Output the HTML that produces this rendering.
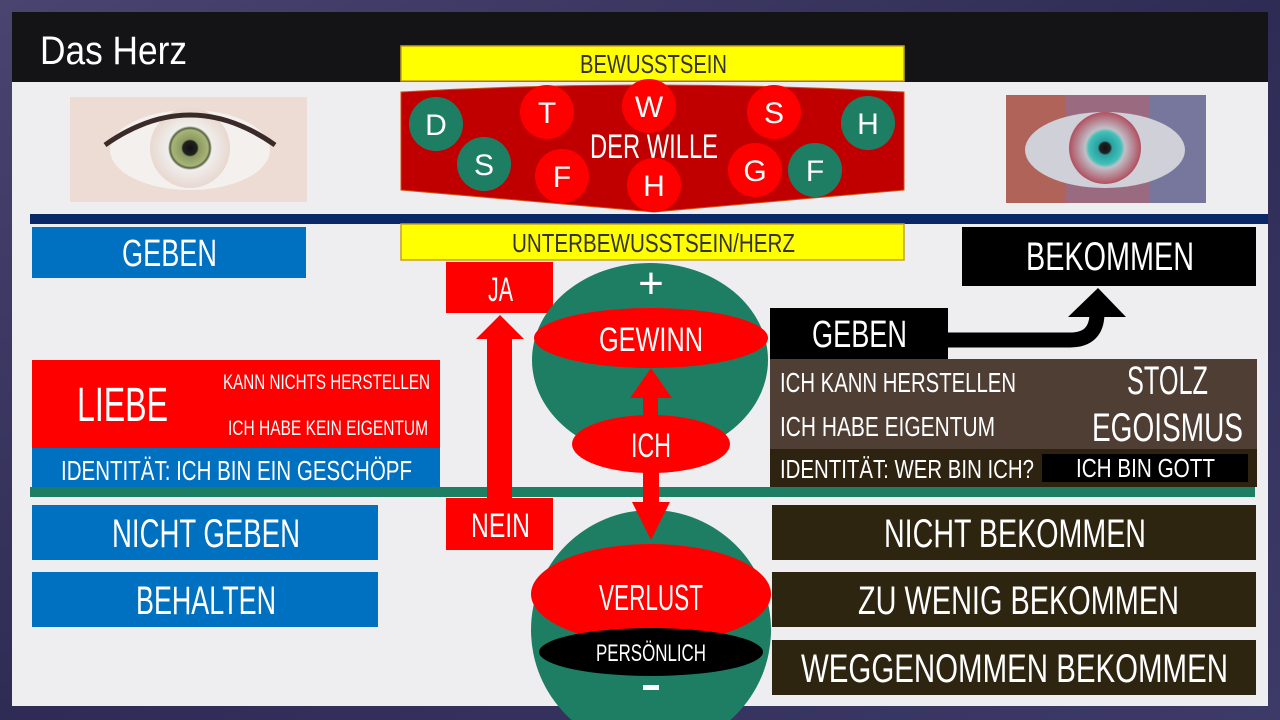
<!DOCTYPE html>
<html><head><meta charset="utf-8"><style>
html,body{margin:0;padding:0;width:1280px;height:720px;overflow:hidden;background:#3a3660}
svg{display:block}
text{font-family:"Liberation Sans Narrow","Liberation Sans",sans-serif;fill:#fff}
</style></head><body>
<svg width="1280" height="720" viewBox="0 0 1280 720" xmlns="http://www.w3.org/2000/svg">
<defs>
<linearGradient id="bg" x1="0" y1="0" x2="1" y2="1"><stop offset="0" stop-color="#4a4470"/><stop offset="0.5" stop-color="#2e2c55"/><stop offset="1" stop-color="#3d3a68"/></linearGradient>
<radialGradient id="eyeL" cx="0.5" cy="0.5" r="0.5"><stop offset="0" stop-color="#111"/><stop offset="0.18" stop-color="#222"/><stop offset="0.22" stop-color="#8a9a60"/><stop offset="0.45" stop-color="#a8b478"/><stop offset="0.5" stop-color="#556040"/><stop offset="0.55" stop-color="#f0eeec"/><stop offset="1" stop-color="#e8d8d0"/></radialGradient>
<radialGradient id="eyeR" cx="0.5" cy="0.5" r="0.5"><stop offset="0" stop-color="#111"/><stop offset="0.15" stop-color="#222"/><stop offset="0.2" stop-color="#2aa0a0"/><stop offset="0.45" stop-color="#40c0b8"/><stop offset="0.55" stop-color="#c0c0c8"/><stop offset="1" stop-color="#b05060"/></radialGradient>
</defs>
<rect width="1280" height="720" fill="url(#bg)"/>
<rect x="12" y="12" width="1256" height="694" fill="#eeeef0"/>
<rect x="12" y="12" width="1256" height="70" fill="#141416"/>
<text x="40" y="64" font-size="40" textLength="147" lengthAdjust="spacingAndGlyphs">Das Herz</text>

<!-- eyes -->
<rect x="70" y="97" width="237" height="105" fill="#ecdcd4"/>
<ellipse cx="190" cy="150" rx="80" ry="40" fill="#f4f0ee"/>
<circle cx="190" cy="148" r="40" fill="url(#eyeL)"/>
<path d="M105 145 Q190 85 275 145" stroke="#3a2a28" stroke-width="5" fill="none"/>
<rect x="1006" y="95" width="200" height="108" fill="#9a6a80"/>
<rect x="1006" y="95" width="60" height="108" fill="#c06040" opacity="0.6"/>
<rect x="1150" y="95" width="56" height="108" fill="#6080b0" opacity="0.6"/>
<ellipse cx="1105" cy="150" rx="80" ry="38" fill="#d0d0d8"/>
<circle cx="1105" cy="148" r="36" fill="url(#eyeR)"/>

<!-- bewusstsein -->
<rect x="401" y="46" width="503" height="35" fill="#ffff00" stroke="#c8a020" stroke-width="1.5"/>
<text x="580" y="73" font-size="26" textLength="147" lengthAdjust="spacingAndGlyphs" style="fill:#333">BEWUSSTSEIN</text>
<path d="M401 92 Q652 78 904 92 L904 190 L654 212 L401 190 Z" fill="#c00000" stroke="#d05010" stroke-width="1"/>
<g font-size="30" text-anchor="middle">
<circle cx="436" cy="124" r="27" fill="#1e7e64"/><text x="436" y="135">D</text>
<circle cx="484" cy="164" r="27" fill="#1e7e64"/><text x="484" y="175">S</text>
<circle cx="547" cy="112" r="27" fill="#ff0000"/><text x="547" y="123">T</text>
<circle cx="649" cy="106" r="27" fill="#ff0000"/><text x="649" y="117">W</text>
<circle cx="562" cy="176" r="27" fill="#ff0000"/><text x="562" y="187">F</text>
<circle cx="654" cy="185" r="27" fill="#ff0000"/><text x="654" y="196">H</text>
<circle cx="774" cy="112" r="27" fill="#ff0000"/><text x="774" y="123">S</text>
<circle cx="755" cy="170" r="27" fill="#ff0000"/><text x="755" y="181">G</text>
<circle cx="815" cy="170" r="27" fill="#1e7e64"/><text x="815" y="181">F</text>
<circle cx="868" cy="123" r="27" fill="#1e7e64"/><text x="868" y="134">H</text>
</g>
<text x="590" y="158" font-size="34" textLength="128" lengthAdjust="spacingAndGlyphs">DER WILLE</text>

<rect x="30" y="214" width="1238" height="10" fill="#0a2868"/>
<rect x="401" y="224" width="503" height="36" fill="#ffff00" stroke="#c8a020" stroke-width="1.5"/>
<text x="512" y="252" font-size="26" textLength="283" lengthAdjust="spacingAndGlyphs" style="fill:#333">UNTERBEWUSSTSEIN/HERZ</text>

<!-- left -->
<rect x="32" y="227" width="274" height="51" fill="#0070c0"/>
<text x="122" y="266" font-size="38" textLength="95" lengthAdjust="spacingAndGlyphs">GEBEN</text>
<rect x="32" y="360" width="408" height="88" fill="#ff0000"/>
<text x="77" y="421" font-size="48" textLength="91" lengthAdjust="spacingAndGlyphs">LIEBE</text>
<text x="223" y="389" font-size="21" textLength="207" lengthAdjust="spacingAndGlyphs">KANN NICHTS HERSTELLEN</text>
<text x="228" y="435" font-size="21" textLength="200" lengthAdjust="spacingAndGlyphs">ICH HABE KEIN EIGENTUM</text>
<rect x="32" y="448" width="408" height="39" fill="#0070c0"/>
<text x="61" y="480" font-size="28" textLength="351" lengthAdjust="spacingAndGlyphs">IDENTITÄT: ICH BIN EIN GESCHÖPF</text>
<rect x="32" y="505" width="346" height="55" fill="#0070c0"/>
<text x="112" y="547" font-size="40" textLength="188" lengthAdjust="spacingAndGlyphs">NICHT GEBEN</text>
<rect x="32" y="572" width="346" height="55" fill="#0070c0"/>
<text x="136" y="614" font-size="40" textLength="140" lengthAdjust="spacingAndGlyphs">BEHALTEN</text>

<!-- green line -->
<rect x="30" y="487" width="1225" height="10" fill="#1e7e64"/>

<!-- JA / NEIN -->
<rect x="446" y="262" width="107" height="51" fill="#ff0000"/>
<text x="488" y="301" font-size="34" textLength="25" lengthAdjust="spacingAndGlyphs">JA</text>
<rect x="446" y="498" width="107" height="52" fill="#ff0000"/>
<text x="471" y="537" font-size="34" textLength="59" lengthAdjust="spacingAndGlyphs">NEIN</text>
<rect x="487" y="336" width="25" height="164" fill="#ff0000"/>
<polygon points="476,339 500,315 524,339" fill="#ff0000"/>

<!-- top circle -->
<ellipse cx="650" cy="360" rx="118" ry="97" fill="#1e7e64"/>
<text x="651" y="298" font-size="44" text-anchor="middle">+</text>
<ellipse cx="651" cy="338" rx="117" ry="30" fill="#ff0000"/>
<text x="599" y="351" font-size="34" textLength="104" lengthAdjust="spacingAndGlyphs">GEWINN</text>
<rect x="643" y="395" width="15" height="25" fill="#ff0000"/>
<polygon points="630,398 651,368 672,398" fill="#ff0000"/>
<!-- bottom circle -->
<circle cx="651" cy="630" r="120" fill="#1e7e64"/>
<ellipse cx="651" cy="594" rx="120" ry="50" fill="#ff0000"/>
<ellipse cx="651" cy="652" rx="112" ry="24" fill="#000"/>
<text x="599" y="610" font-size="36" textLength="104" lengthAdjust="spacingAndGlyphs">VERLUST</text>
<text x="596" y="661" font-size="24" textLength="110" lengthAdjust="spacingAndGlyphs">PERSÖNLICH</text>
<rect x="643" y="685" width="16" height="5" fill="#fff"/>
<rect x="643" y="470" width="16" height="35" fill="#ff0000"/>
<polygon points="632,502 670,502 651,540" fill="#ff0000"/>
<ellipse cx="651" cy="444" rx="79" ry="29" fill="#ff0000"/>
<text x="631" y="457" font-size="34" textLength="40" lengthAdjust="spacingAndGlyphs">ICH</text>

<!-- right -->
<rect x="962" y="227" width="294" height="59" fill="#000"/>
<text x="1026" y="270" font-size="40" textLength="168" lengthAdjust="spacingAndGlyphs">BEKOMMEN</text>
<path d="M940 340 L1070 340 Q1097 340 1097 313 L1097 310" stroke="#000" stroke-width="15" fill="none"/>
<polygon points="1068,317 1098,288 1126,317" fill="#000"/>
<rect x="770" y="308" width="178" height="51" fill="#000"/>
<text x="812" y="347" font-size="38" textLength="95" lengthAdjust="spacingAndGlyphs">GEBEN</text>
<rect x="770" y="359" width="487" height="90" fill="#4e3e34"/>
<text x="780" y="392" font-size="28" textLength="236" lengthAdjust="spacingAndGlyphs">ICH KANN HERSTELLEN</text>
<text x="780" y="436" font-size="28" textLength="215" lengthAdjust="spacingAndGlyphs">ICH HABE EIGENTUM</text>
<text x="1127" y="394" font-size="40" textLength="81" lengthAdjust="spacingAndGlyphs">STOLZ</text>
<text x="1092" y="441" font-size="40" textLength="151" lengthAdjust="spacingAndGlyphs">EGOISMUS</text>
<rect x="770" y="449" width="487" height="38" fill="#2e2210"/>
<text x="780" y="478" font-size="26" textLength="254" lengthAdjust="spacingAndGlyphs">IDENTITÄT: WER BIN ICH?</text>
<rect x="1042" y="454" width="206" height="28" fill="#000"/>
<text x="1076" y="477" font-size="26" textLength="139" lengthAdjust="spacingAndGlyphs">ICH BIN GOTT</text>
<rect x="772" y="505" width="484" height="55" fill="#2d2510"/>
<text x="884" y="547" font-size="40" textLength="262" lengthAdjust="spacingAndGlyphs">NICHT BEKOMMEN</text>
<rect x="772" y="572" width="484" height="55" fill="#2d2510"/>
<text x="858" y="614" font-size="40" textLength="321" lengthAdjust="spacingAndGlyphs">ZU WENIG BEKOMMEN</text>
<rect x="772" y="640" width="484" height="55" fill="#2d2510"/>
<text x="801" y="682" font-size="40" textLength="427" lengthAdjust="spacingAndGlyphs">WEGGENOMMEN BEKOMMEN</text>
</svg>
</body></html>
